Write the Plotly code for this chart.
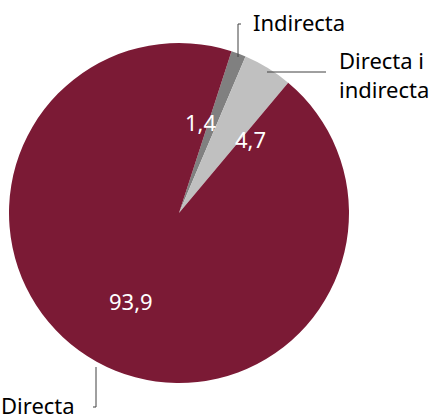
import plotly.graph_objects as go

labels = ["Indirecta", "Directa i indirecta", "Directa"]
values = [1.4, 4.7, 93.9]
value_text = ["1,4", "4,7", "93,9"]
colors = ["#808080", "#C0C0C0", "#7B1A35"]

W, H = 431, 419
FONT = "Noto Sans"


def px(x):
    return x / W


def py(y):
    return 1 - y / H


fig = go.Figure(
    go.Pie(
        labels=labels,
        values=values,
        sort=False,
        direction="clockwise",
        rotation=18,
        marker=dict(colors=colors, line=dict(width=0)),
        textinfo="none",
        hoverinfo="label+value",
        domain=dict(x=[px(9), px(349)], y=[py(383), py(43)]),
        showlegend=False,
    )
)

# value labels inside the slices
value_pos = [(200, 122), (250, 139), (131, 301)]
for txt, (x, y) in zip(value_text, value_pos):
    fig.add_annotation(x=px(x), y=py(y), xref="paper", yref="paper", text=txt,
                       xanchor="center", yanchor="middle", showarrow=False,
                       font=dict(family=FONT, size=22, color="white"))

# outside category labels
outside = [("Indirecta", 251, 22), ("Directa i<br>indirecta", 337, 74), ("Directa", -1, 405)]
for txt, x, y in outside:
    fig.add_annotation(x=px(x), y=py(y), xref="paper", yref="paper", text=txt,
                       xanchor="left", yanchor="middle", align="left", showarrow=False,
                       font=dict(family=FONT, size=22, color="black"))

# leader lines
line = dict(color="#404040", width=1)
for x0, y0, x1, y1 in [(238, 57, 238, 24), (238, 24, 241, 24),
                       (267, 72, 326, 72),
                       (96, 367, 96, 407), (96, 407, 93, 407)]:
    fig.add_shape(type="line", xref="paper", yref="paper",
                  x0=px(x0), y0=py(y0), x1=px(x1), y1=py(y1), line=line)

fig.update_layout(
    width=W, height=H,
    margin=dict(l=0, r=0, t=0, b=0),
    paper_bgcolor="white",
    plot_bgcolor="white",
    font=dict(family=FONT),
)

fig.write_html("out.html", config={"displayModeBar": False},
               post_script="document.body.style.margin='0';")
